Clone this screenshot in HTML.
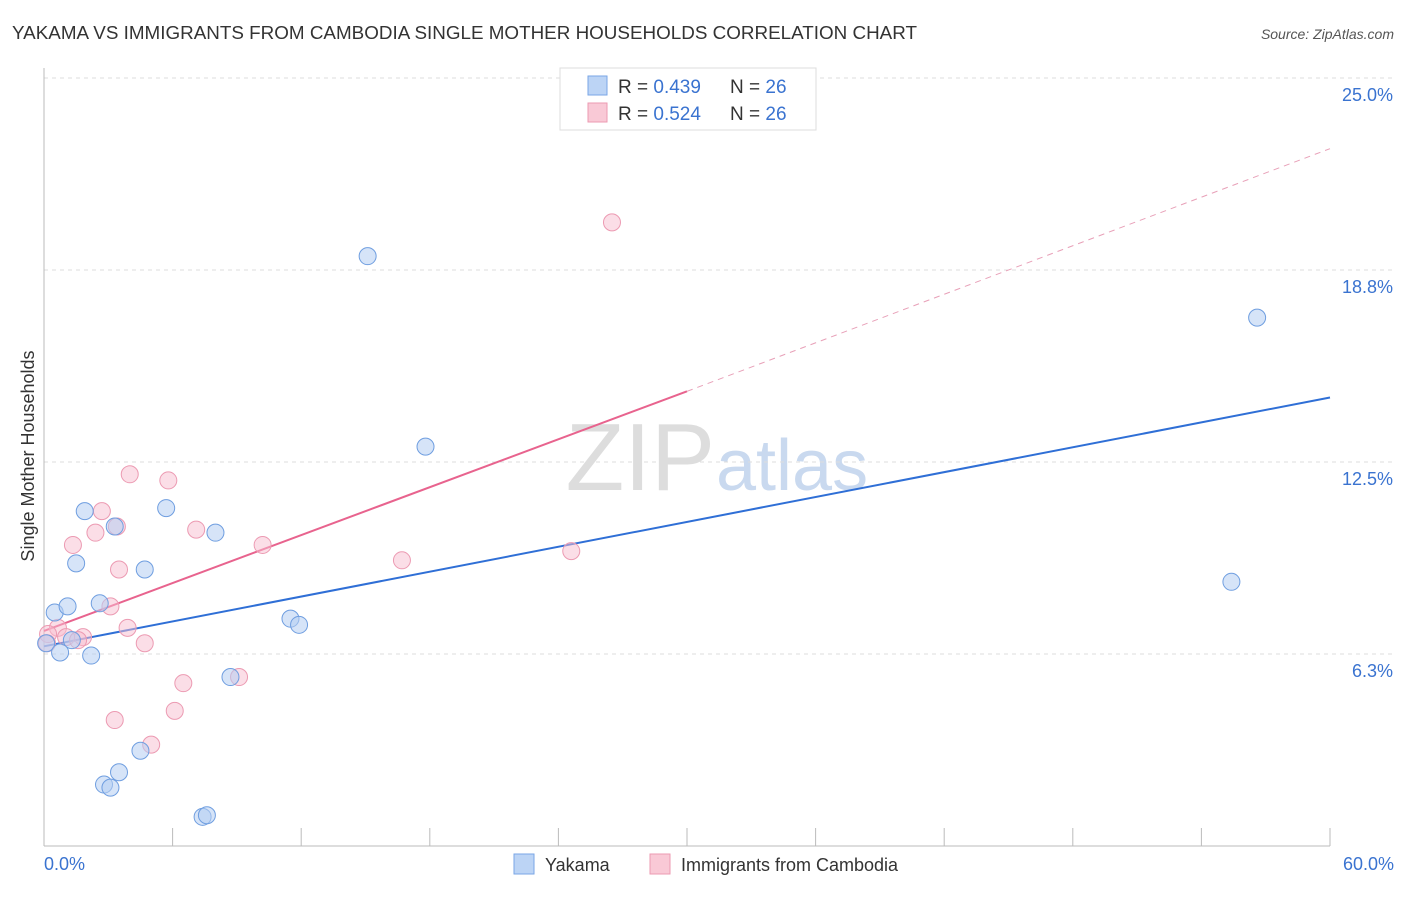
<!DOCTYPE html>
<html><head><meta charset="utf-8"><style>
body{margin:0;background:#fff;font-family:"Liberation Sans",sans-serif}
svg text{font-family:"Liberation Sans",sans-serif}
</style></head><body>
<svg width="1406" height="892" viewBox="0 0 1406 892">
<text x="12" y="39" font-size="18" fill="#333" textLength="905" lengthAdjust="spacingAndGlyphs">YAKAMA VS IMMIGRANTS FROM CAMBODIA SINGLE MOTHER HOUSEHOLDS CORRELATION CHART</text>
<text x="1394" y="39" font-size="14" fill="#555" font-style="italic" text-anchor="end">Source: ZipAtlas.com</text>
<text x="715" y="490" font-size="96" fill="#ddd" text-anchor="end" font-family="Liberation Serif">ZIP</text>
<text x="716" y="490" font-size="72" fill="#c9d9ef">atlas</text>
<g id="grid"></g>
<line x1="44" y1="68" x2="44" y2="846" stroke="#bbb"/>
<line x1="44" y1="846" x2="1330" y2="846" stroke="#bbb"/>
<text transform="translate(34,456) rotate(-90)" font-size="18" fill="#333" text-anchor="middle">Single Mother Households</text>
<text x="44" y="870" font-size="18" fill="#3a73d0">0.0%</text>
<text x="1394" y="870" font-size="18" fill="#3a73d0" text-anchor="end">60.0%</text>
<g id="lines"></g>
<g id="points"></g>
<g>
<rect x="560" y="68" width="256" height="62" fill="#fff" stroke="#ddd"/>
<rect x="588" y="76" width="19" height="19" fill="#bcd4f5" stroke="#7aa6e6"/>
<text x="618" y="93" font-size="19" fill="#333">R = <tspan fill="#3a73d0">0.439</tspan></text>
<text x="730" y="93" font-size="19" fill="#333">N = <tspan fill="#3a73d0">26</tspan></text>
<rect x="588" y="103" width="19" height="19" fill="#f9c9d6" stroke="#ec9ab2"/>
<text x="618" y="120" font-size="19" fill="#333">R = <tspan fill="#3a73d0">0.524</tspan></text>
<text x="730" y="120" font-size="19" fill="#333">N = <tspan fill="#3a73d0">26</tspan></text>
</g>
<g>
<rect x="514" y="854" width="20" height="20" fill="#bcd4f5" stroke="#7aa6e6"/>
<text x="545" y="871" font-size="18" fill="#333">Yakama</text>
<rect x="650" y="854" width="20" height="20" fill="#f9c9d6" stroke="#ec9ab2"/>
<text x="681" y="871" font-size="18" fill="#333">Immigrants from Cambodia</text>
</g>
</svg>
<script>
const yTicks=[6.25,12.5,18.75,25];
const yTickLabels=["6.3%","12.5%","18.8%","25.0%"];
const blueX=[15.1,56.6,17.8,55.4,1.9,5.7,3.3,8.0,1.5,4.7,0.5,1.1,2.6,11.5,11.9,0.1,1.3,0.75,2.2,8.7,4.5,3.5,2.8,3.1,7.4,7.6];
const blueY=[19.2,17.2,13.0,8.6,10.9,11.0,10.4,10.2,9.2,9.0,7.6,7.8,7.9,7.4,7.2,6.6,6.7,6.3,6.2,5.5,3.1,2.4,2.0,1.9,0.95,1.0];
const pinkX=[26.5,4.0,5.8,2.7,3.4,2.4,7.1,1.35,10.2,24.6,16.7,3.5,3.1,3.9,0.65,0.19,1.03,1.82,1.59,0.14,4.7,6.5,9.1,3.3,6.1,5.0];
const pinkY=[20.3,12.1,11.9,10.9,10.4,10.2,10.3,9.8,9.8,9.6,9.3,9.0,7.8,7.1,7.1,6.9,6.8,6.8,6.7,6.6,6.6,5.3,5.5,4.1,4.4,3.3];
const blueLine=[0,6.5,60,14.6];
const pinkLine=[0,7.0,30,14.8,60,22.7];
const X=v=>44+v*(1286/60), Y=v=>846-v*30.72;
const NS="http://www.w3.org/2000/svg";
const grid=document.getElementById('grid'),svg=document.querySelector('svg');
yTicks.forEach((t,i)=>{const l=document.createElementNS(NS,'line');
l.setAttribute('x1',44);l.setAttribute('x2',1394);l.setAttribute('y1',Y(t));l.setAttribute('y2',Y(t));
l.setAttribute('stroke','#ddd');l.setAttribute('stroke-dasharray','4,4');

grid.appendChild(l);
const tx=document.createElementNS(NS,'text');tx.setAttribute('x',1393);tx.setAttribute('y',Y(t)+23);
tx.setAttribute('text-anchor','end');tx.setAttribute('font-size','18');tx.setAttribute('fill','#3a73d0');tx.textContent=yTickLabels[i];

grid.appendChild(tx);});
for(let i=0;i<=10;i++){const l=document.createElementNS(NS,'line');const x=X(i*6);
l.setAttribute('x1',x);l.setAttribute('x2',x);l.setAttribute('y1',828);l.setAttribute('y2',846);l.setAttribute('stroke','#bbb');

grid.appendChild(l);}
const lines=document.getElementById('lines');
function ln(x1,y1,x2,y2,c,w,d,name){const l=document.createElementNS(NS,'line');
l.setAttribute('x1',X(x1));l.setAttribute('y1',Y(y1));l.setAttribute('x2',X(x2));l.setAttribute('y2',Y(y2));
l.setAttribute('stroke',c);l.setAttribute('stroke-width',w);if(d)l.setAttribute('stroke-dasharray',d);

lines.appendChild(l);}
ln(blueLine[0],blueLine[1],blueLine[2],blueLine[3],'#2f6fd6',2,null,'yakama-trend-line');
ln(pinkLine[0],pinkLine[1],pinkLine[2],pinkLine[3],'#e8638e',2,null,'cambodia-trend-line');
ln(pinkLine[2],pinkLine[3],pinkLine[4],pinkLine[5],'#e8a0b8',1,'6,5','cambodia-trend-extension');
const pts=document.getElementById('points');
function dots(xs,ys,f,s,name){xs.forEach((x,i)=>{const c=document.createElementNS(NS,'circle');
c.setAttribute('cx',X(x));c.setAttribute('cy',Y(ys[i]));c.setAttribute('r',8.5);c.setAttribute('fill',f);c.setAttribute('stroke',s);

pts.appendChild(c);});}
dots(pinkX,pinkY,'rgba(248,190,208,0.5)','#ec9ab2','cambodia-point');
dots(blueX,blueY,'rgba(180,205,243,0.55)','#6f9ee0','yakama-point');
</script>
</body></html>
